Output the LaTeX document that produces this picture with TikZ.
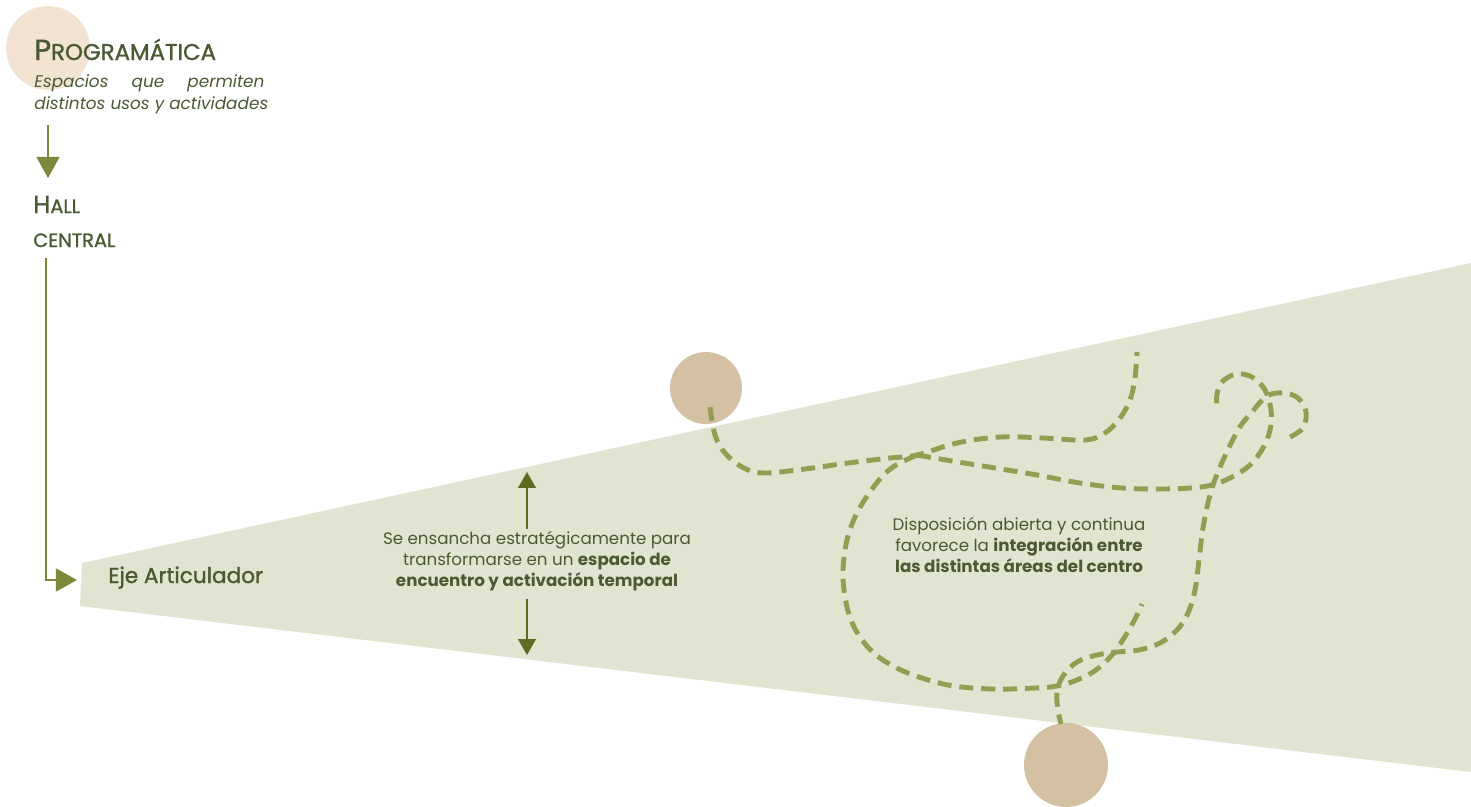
\documentclass[tikz,border=0pt]{standalone}
\usepackage{fontspec}
\setmainfont{Poppins}
\newfontfamily\medfont{Poppins}[FakeBold=1.3]
\usetikzlibrary{arrows.meta,positioning,calc}
\definecolor{olivetext}{HTML}{4B5A32}
\definecolor{arrowolive}{HTML}{7B8A3A}
\definecolor{arrowdark}{HTML}{5C6A22}
\definecolor{dashgreen}{HTML}{929F52}
\definecolor{wedgefill}{HTML}{E1E4D1}
\definecolor{peach}{HTML}{F2E3D3}
\definecolor{tan}{HTML}{D4C1A3}
\newcommand{\fsz}[1]{\fontsize{#1}{#1}\selectfont}

\begin{document}
\begin{tikzpicture}[x=0.02cm, y=-0.02cm,
    title/.style={inner sep=0pt, anchor=base west, text=olivetext, font=\medfont},
    body/.style={inner sep=0pt, text=olivetext, align=center,
                 font=\fontsize{9.5}{12}\selectfont},
    arr/.style={-{Triangle[width=13pt,length=12pt]}, line width=1.1pt, arrowolive},
    dbl/.style={-{Triangle[width=10pt,length=9pt]}, line width=1pt, arrowdark},
    trail/.style={line width=2.8pt, dashgreen, dash pattern=on 8pt off 4.5pt},
    spot/.style={circle, inner sep=0pt, fill=tan}
]
    \useasboundingbox (0,0) rectangle (1471,806);
    % widening axis
    \fill[wedgefill] (82,563) -- (1471,263) -- (1471,772) -- (80,606) -- cycle;
    \node[spot, fill=peach, minimum size=1.68cm] (spotProg) at (48,48) {};
    \node[spot, minimum size=1.44cm] (spotTop) at (706,388) {};
    \node[spot, minimum size=1.68cm] (spotBottom) at (1066,765) {};

    % left column
    \node[title] (progTitle) at (34,60) {{\fsz{16.5}P}{\fsz{13}ROGRAMÁTICA}};
    \node[inner sep=0pt, anchor=north west, text=olivetext, align=left,
          font=\fontsize{9.6}{12.5}\selectfont\itshape] (progText) at (34,74)
          {\makebox[131pt][s]{Espacios que permiten}\\distintos usos y actividades};
    \node[title] (hall) at (33,213) {{\fsz{14}H}{\fsz{11}ALL}};
    \node[title] (central) at (33,247) {\fsz{11}CENTRAL};
    \node[title, font=\medfont\fontsize{12.3}{13}\selectfont] (eje) at (108,583) {Eje Articulador};

    \coordinate (progOut) at (48,125);
    \coordinate (hallIn) at (48,178);
    \coordinate (centralOut) at (46,258);
    \coordinate (ejeIn) at (77,580);
    \draw[arr] (progOut) -- (hallIn);
    \draw[arr] (centralOut) |- (ejeIn);

    % widening note
    \node[body] (widen) at (537,561) {Se ensancha estratégicamente para\\
        transformarse en un \textbf{espacio de}\\\textbf{encuentro y activación temporal}};
    \coordinate (widenTop) at (527,472);
    \coordinate (widenBot) at (527,655);
    \draw[dbl] ($(widen.north -| widenTop)+(0,-2)$) -- (widenTop);
    \draw[dbl] ($(widen.south -| widenBot)+(0,8)$) -- (widenBot);

    % open layout note
    \node[body] (layout) at (1019,545) {Disposición abierta y continua\\
        favorece la \textbf{integración entre}\\\textbf{las distintas áreas del centro}};

    % dashed routes
    \draw[trail] plot[smooth, tension=0.6] coordinates {(710,407) (715,435) (725,453)
        (742,467) (763,473) (805,469) (848,463) (890,458) (917,455) (957,443) (1000,437)
        (1043,438) (1085,440) (1105,433) (1120,418) (1130,400) (1135,378) (1137,352)};
    \draw[trail] plot[smooth, tension=0.6] coordinates {(917,455) (952,461) (995,468)
        (1037,475) (1080,483) (1122,488) (1160,489) (1190,488) (1212,485) (1232,477)
        (1250,465) (1263,448) (1270,430) (1271,410) (1265,390) (1252,377) (1236,374)
        (1222,382) (1217,394) (1217,406)};
    \draw[trail] plot[smooth, tension=0.6] coordinates {(917,455) (893,467) (875,485)
        (857,513) (847,540) (843,570) (845,597) (851,620) (862,640) (880,658) (908,673)
        (948,685) (992,689) (1035,688) (1057,686) (1077,680) (1096,670) (1112,655)
        (1124,638) (1135,619) (1142,604)};
    \draw[trail] plot[smooth, tension=0.6] coordinates {(1290,437) (1303,428) (1306,412)
        (1298,398) (1283,393) (1267,396) (1252,412) (1238,430) (1220,467) (1210,495)
        (1203,528) (1199,560) (1195,590) (1188,613) (1177,630) (1160,643) (1139,650)
        (1117,652) (1097,655) (1077,662) (1063,676) (1057,692) (1058,710) (1061,724)};
\end{tikzpicture}
\end{document}
